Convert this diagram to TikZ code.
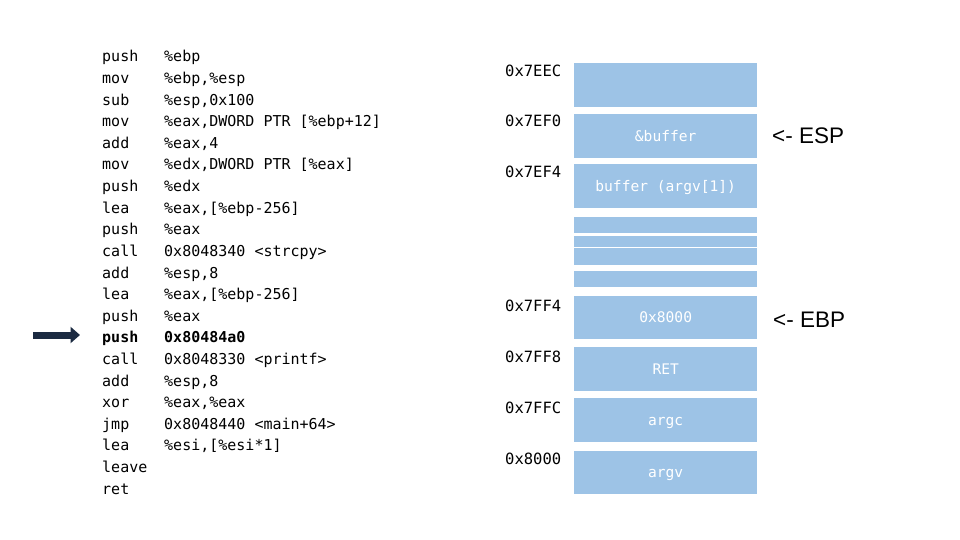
\documentclass[tikz,border=0pt]{standalone}
\usepackage{fontspec}
\setmonofont{DejaVu Sans Mono}
\newfontfamily\lblfont{Liberation Sans}
\usetikzlibrary{arrows.meta}
\definecolor{cellblue}{HTML}{9DC3E6}
\definecolor{navy}{HTML}{1B2A41}
\begin{document}
\begin{tikzpicture}[x=1pt,y=-1pt,
  code/.style={inner sep=0pt,anchor=base west,font=\ttfamily\fontsize{15}{17}\selectfont},
  addr/.style={inner sep=0pt,anchor=base west,font=\ttfamily\fontsize{15.5}{17}\selectfont},
  cell/.style={fill=cellblue,draw=none,inner sep=0pt,anchor=north west,minimum width=183pt,
    text=white,font=\ttfamily\fontsize{14.6}{16}\selectfont,text height=10.5pt,text depth=0pt},
  reg/.style={inner sep=0pt,anchor=base west,font=\lblfont\fontsize{22.5}{25}\selectfont},
  fatarrow/.style={draw=navy,line width=7pt,-{Triangle[length=9.5pt,width=16pt]}}]
\useasboundingbox (0,0) rectangle (960,540);
% code listing
\foreach [count=\i] \m/\o in {
  push/{\%ebp},
  mov/{\%ebp,\%esp},
  sub/{\%esp,0x100},
  mov/{\%eax,DWORD PTR [\%ebp+12]},
  add/{\%eax,4},
  mov/{\%edx,DWORD PTR [\%eax]},
  push/{\%edx},
  lea/{\%eax,[\%ebp-256]},
  push/{\%eax},
  call/{0x8048340 <strcpy>},
  add/{\%esp,8},
  lea/{\%eax,[\%ebp-256]},
  push/{\%eax},
  {\bfseries push}/{\bfseries 0x80484a0},
  call/{0x8048330 <printf>},
  add/{\%esp,8},
  xor/{\%eax,\%eax},
  jmp/{0x8048440 <main+64>},
  lea/{\%esi,[\%esi*1]},
  leave/{},
  ret/{}} {
  \node[code] (m\i) at (102,{62+21.6*(\i-1)}) {\m};
  \node[code] (o\i) at (164,{62+21.6*(\i-1)}) {\o};
}
% pointer arrow
\coordinate (arrS) at (33,335);
\coordinate (arrE) at (80,335);
\draw[fatarrow] (arrS) -- (arrE);
% stack cells
\node[cell,minimum height=44pt] (b1) at (574,63) {};
\node[cell,minimum height=44pt] (b2) at (574,114) {\&buffer};
\node[cell,minimum height=44pt] (b3) at (574,164) {buffer (argv[1])};
\node[cell,minimum height=16pt] (b4) at (574,217) {};
\node[cell,minimum height=11pt] (b5) at (574,236) {};
\node[cell,minimum height=17pt] (b6) at (574,248) {};
\node[cell,minimum height=16pt] (b7) at (574,271) {};
\node[cell,minimum height=43pt] (b8) at (574,296) {0x8000};
\node[cell,minimum height=44pt] (b9) at (574,347) {RET};
\node[cell,minimum height=44pt] (b10) at (574,398) {argc};
\node[cell,minimum height=43pt] (b11) at (574,451) {argv};
% addresses
\node[addr] (a1) at (505,77) {0x7EEC};
\node[addr] (a2) at (505,127) {0x7EF0};
\node[addr] (a3) at (505,178) {0x7EF4};
\node[addr] (a4) at (505,311) {0x7FF4};
\node[addr] (a5) at (505,362) {0x7FF8};
\node[addr] (a6) at (505,413) {0x7FFC};
\node[addr] (a7) at (505,464) {0x8000};
% registers
\node[reg] (esp) at (772,144) {<- ESP};
\node[reg] (ebp) at (773,327) {<- EBP};
\end{tikzpicture}
\end{document}
